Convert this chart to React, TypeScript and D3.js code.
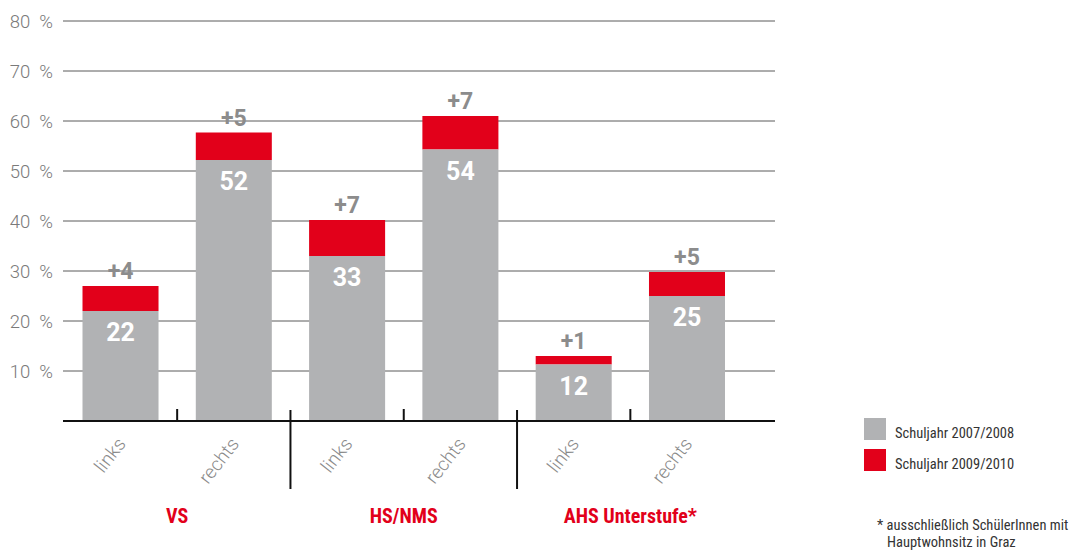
import React from "react";
import * as d3 from "d3";

const groups = ["VS", "HS/NMS", "AHS Unterstufe*"];
const categories = ["links", "rechts", "links", "rechts", "links", "rechts"];
const groupOf = [0, 0, 1, 1, 2, 2];
const base2007 = [22, 52.2, 33, 54.3, 11.3, 25];
const total2009 = [27, 57.7, 40.2, 61, 13, 29.8];
const baseLabels = ["22", "52", "33", "54", "12", "25"];
const deltaLabels = ["+4", "+5", "+7", "+7", "+1", "+5"];
const yTicks = [10, 20, 30, 40, 50, 60, 70, 80];
const legendItems = ["Schuljahr 2007/2008", "Schuljahr 2009/2010"];
const footnote = ["* ausschließlich SchülerInnen mit", "Hauptwohnsitz in Graz"];

const GREY = "#b1b2b4";
const RED = "#e2001a";
const COND = "'Liberation Sans Narrow', 'Roboto Condensed', 'Arial Narrow', Roboto, sans-serif";

export default function App() {
  const W = 1072, H = 550;
  const gridX0 = 63, gridX1 = 775;
  const y = d3.scaleLinear().domain([0, 80]).range([421, 21]);
  const x = d3.scaleBand<number>().domain(d3.range(6)).range([82.5, 725]).paddingInner(0.329).paddingOuter(0);
  const bw = x.bandwidth();
  const step = x.step();
  const cx = (i: number) => (x(i) as number) + bw / 2;
  const sepX = (i: number) => (x(i) as number) + bw + (step - bw) / 2;

  return (
    <svg width={W} height={H} style={{ position: "absolute", left: 0, top: 0, background: "#fff" }}>
      {yTicks.map((t) => (
        <g key={t}>
          <line x1={gridX0} x2={gridX1} y1={y(t)} y2={y(t)} stroke="#5a5a5a" strokeWidth={1} />
          <text x={53} y={y(t)} dy="0.36em" textAnchor="end" fill="#7a7a7a" fontFamily="Roboto, sans-serif" fontWeight={300} fontSize={18.5} style={{ whiteSpace: "pre" }}>
            {`${t}  %`}
          </text>
        </g>
      ))}
      {base2007.map((v, i) => (
        <g key={i}>
          <rect x={x(i)} width={bw} y={y(total2009[i])} height={y(v) - y(total2009[i])} fill={RED} />
          <rect x={x(i)} width={bw} y={y(v)} height={y(0) - y(v)} fill={GREY} />
          <text x={cx(i)} y={y(v) + 30} textAnchor="middle" fill="#fff" fontFamily="Roboto, sans-serif" fontWeight={700} fontSize={25}>
            {baseLabels[i]}
          </text>
          <text x={cx(i)} y={y(total2009[i]) - 7} textAnchor="middle" fill="#8c8c8c" fontFamily="Roboto, sans-serif" fontWeight={700} fontSize={23}>
            {deltaLabels[i]}
          </text>
          <text
            transform={`translate(${cx(i) + 1},${440}) rotate(-52)`}
            textAnchor="end"
            dy="0.35em"
            fill="#8a8a8a"
            fontFamily="Roboto, sans-serif"
            fontWeight={300}
            fontSize={19}
          >
            {categories[i]}
          </text>
        </g>
      ))}
      <line x1={gridX0} x2={gridX1} y1={y(0)} y2={y(0)} stroke="#111" strokeWidth={2} />
      {d3.range(5).map((i) => {
        const long = groupOf[i] !== groupOf[i + 1];
        return (
          <line key={i} x1={sepX(i)} x2={sepX(i)} y1={long ? 410 : 409} y2={long ? 489 : 421} stroke="#111" strokeWidth={2} />
        );
      })}
      {groups.map((g, gi) => {
        const idx = groupOf.map((v, i) => (v === gi ? i : -1)).filter((i) => i >= 0);
        const mid = (cx(idx[0]) + cx(idx[idx.length - 1])) / 2;
        return (
          <text key={g} x={mid} y={523} textAnchor="middle" fill={RED} fontFamily={COND} fontWeight={700} fontSize={20}>
            {g}
          </text>
        );
      })}
      {legendItems.map((l, i) => (
        <g key={l}>
          <rect x={864} y={418 + i * 31} width={22} height={22} fill={i === 0 ? GREY : RED} />
          <text x={895} y={438 + i * 31} fill="#333" fontFamily={COND} fontSize={14.5}>
            {l}
          </text>
        </g>
      ))}
      {footnote.map((f, i) => (
        <text key={i} x={i === 0 ? 877 : 887} y={530 + i * 17} fill="#333" fontFamily={COND} fontSize={14.5}>
          {f}
        </text>
      ))}
    </svg>
  );
}
